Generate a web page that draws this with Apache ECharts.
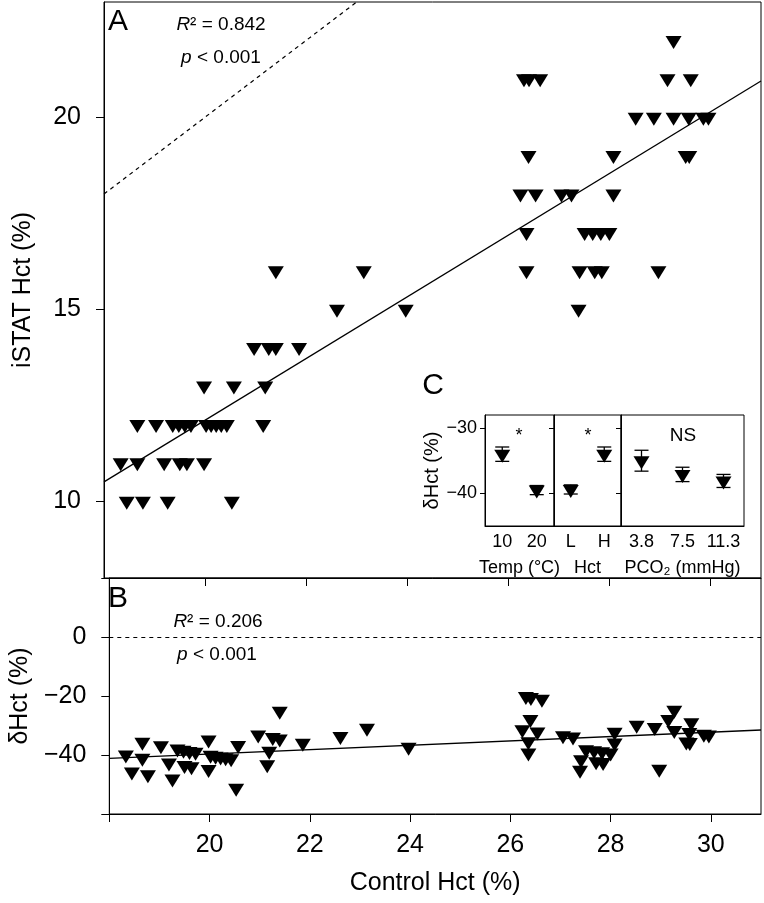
<!DOCTYPE html>
<html>
<head>
<meta charset="utf-8">
<title>Hct</title>
<script src="https://cdn.jsdelivr.net/npm/echarts@6/dist/echarts.min.js"></script>
<style>
  html, body { margin: 0; padding: 0; background: #fff; }
  #chart { width: 764px; height: 903px; }
</style>
</head>
<body>
<div id="chart"></div>
<script>
const FONT = '"Liberation Sans", Arial, sans-serif'

// control Hct (x) and iSTAT Hct (panel A)
const controlHct = [
  18.45, 18.77, 19.26, 20.53,
  18.33, 18.66, 19.19, 19.50, 19.64, 19.98,
  18.66, 19.03, 19.36, 19.48, 19.60, 19.72, 20.02, 20.12, 20.22, 20.32, 20.43, 21.15,
  19.98, 20.57, 21.19,
  20.97, 21.26, 21.40, 21.86,
  22.61, 23.97,
  21.40, 23.14,
  26.31, 26.41, 26.63, 29.15, 29.61,
  29.27,
  28.52, 28.88, 29.27, 29.57, 29.86, 29.96,
  26.40, 28.08, 29.51, 29.58,
  26.24, 26.54, 27.05, 27.25, 28.08,
  26.36, 27.51, 27.67, 27.83, 28.00,
  26.36, 27.41, 27.71, 27.85, 28.97,
  27.39
]
const istatHct = [
  10, 10, 10, 10,
  11, 11, 11, 11, 11, 11,
  12, 12, 12, 12, 12, 12, 12, 12, 12, 12, 12, 12,
  13, 13, 13,
  14, 14, 14, 14,
  15, 15,
  16, 16,
  21, 21, 21, 21, 21,
  22,
  20, 20, 20, 20, 20, 20,
  19, 19, 19, 19,
  18, 18, 18, 18, 18,
  17, 17, 17, 17, 17,
  16, 16, 16, 16, 16,
  15
]
// delta Hct (panel B), same order
const deltaHct = [
  -45.8, -46.7, -48.1, -51.3,
  -40.0, -41.1, -42.7, -43.6, -44.0, -44.9,
  -35.7, -36.9, -38.0, -38.4, -38.8, -39.1, -40.1, -40.4, -40.7, -40.9, -41.3, -43.3,
  -34.9, -36.8, -38.7,
  -33.2, -34.1, -34.6, -36.0,
  -33.7, -37.4,
  -25.2, -30.9,
  -20.2, -20.5, -21.1, -28.0, -29.1,
  -24.8,
  -29.9, -30.7, -31.7, -32.4, -33.0, -33.2,
  -28.0, -32.3, -35.6, -35.8,
  -31.4, -32.2, -33.5, -33.9, -35.9,
  -35.5, -38.2, -38.6, -38.9, -39.3,
  -39.3, -41.6, -42.3, -42.5, -44.8,
  -45.2
]

// regression fits [intercept, slope]
const fitA = [-3.95, 0.803]
const fitB = [-54.4, 0.738]

const xRange = [18, 31]
const xTicks = [20, 22, 24, 26, 28, 30]
const yTicksA = [10, 15, 20]
const yTicksB = [-40, -20, 0]

// panel C
const tempCats = ['10', '20']
const tempMean = [-34.0, -39.5]
const tempSE = [1.1, 0.7]
const hctCats = ['L', 'H']
const hctMean = [-39.4, -34.0]
const hctSE = [0.7, 1.1]
const pco2Cats = ['3.8', '7.5', '11.3']
const pco2Mean = [-35.0, -37.1, -38.1]
const pco2SE = [1.6, 1.1, 1.0]

const tri = 'path://M0,0L16,0L8,13Z'
const minus = v => String(v).replace('-', '\u2212')
const lineFrom = (fit, x0, x1) => [[x0, fit[0] + fit[1] * x0], [x1, fit[0] + fit[1] * x1]]

const chart = echarts.init(document.getElementById('chart'))

const baseLine = { show: true, onZero: false, lineStyle: { color: '#000', width: 1 } }

function cAxisX(idx, cats, name) {
  return {
    gridIndex: idx, type: 'category', data: cats, boundaryGap: true,
    axisLine: baseLine, axisTick: { show: false },
    axisLabel: { interval: 0, hideOverlap: false, fontSize: 18, color: '#000', margin: 7, fontFamily: FONT },
    name: name, nameLocation: 'middle', nameGap: 33,
    nameTextStyle: { fontSize: 18, color: '#000', fontFamily: FONT }
  }
}
function cAxisY(idx, showLabel) {
  return {
    gridIndex: idx, type: 'value', min: -45, max: -28,
    axisLine: baseLine, splitLine: { show: false },
    axisTick: { show: true, length: 5, customValues: [-40, -30], lineStyle: { color: '#000' } },
    axisLabel: { show: showLabel, customValues: [-40, -30], fontSize: 18, color: '#000', margin: 8,
      fontFamily: FONT, formatter: minus },
    name: showLabel ? '\u03b4Hct (%)' : '', nameLocation: 'middle', nameGap: 42,
    nameTextStyle: { fontSize: 20, color: '#000', fontFamily: FONT }
  }
}
function cPoints(idx, mean) {
  return {
    type: 'scatter', xAxisIndex: idx, yAxisIndex: idx,
    symbol: tri, symbolSize: [16, 13], symbolOffset: [0, 2],
    itemStyle: { color: '#000', opacity: 1 }, z: 3,
    data: mean.map((m, i) => [i, m])
  }
}
function cBars(idx, mean, se) {
  return {
    type: 'custom', xAxisIndex: idx, yAxisIndex: idx,
    data: mean.map((m, i) => [i, m - se[i], m + se[i]]),
    renderItem(params, api) {
      const lo = api.coord([api.value(0), api.value(1)])
      const hi = api.coord([api.value(0), api.value(2)])
      const w = 7
      const style = { stroke: '#000', lineWidth: 1.3 }
      return {
        type: 'group',
        children: [
          { type: 'line', shape: { x1: hi[0], y1: hi[1], x2: lo[0], y2: lo[1] }, style },
          { type: 'line', shape: { x1: hi[0] - w, y1: hi[1], x2: hi[0] + w, y2: hi[1] }, style },
          { type: 'line', shape: { x1: lo[0] - w, y1: lo[1], x2: lo[0] + w, y2: lo[1] }, style }
        ]
      }
    }
  }
}

const gridBox = { show: true, borderColor: '#000', borderWidth: 1, backgroundColor: 'transparent' }

function txt(x, y, text, size, rich) {
  return {
    type: 'text', x: x, y: y, z: 10,
    style: { text: text, fontSize: size, fontFamily: FONT, fill: '#000', align: 'center',
      verticalAlign: 'middle', rich: rich || {} }
  }
}
const ital = { i: { fontStyle: 'italic', fontSize: 19, fontFamily: FONT } }

const option = {
  animation: false,
  backgroundColor: '#fff',
  textStyle: { fontFamily: FONT },
  grid: [
    Object.assign({ left: 104, top: 2, width: 657, height: 576 }, gridBox),
    Object.assign({ left: 104, top: 578, width: 657, height: 236 }, gridBox),
    Object.assign({ left: 485, top: 415, width: 69, height: 111 }, gridBox),
    Object.assign({ left: 554, top: 415, width: 67, height: 111 }, gridBox),
    Object.assign({ left: 621, top: 415, width: 123, height: 111 }, gridBox)
  ],
  xAxis: [
    {
      gridIndex: 0, type: 'value', min: xRange[0], max: xRange[1],
      axisLine: baseLine, splitLine: { show: false },
      axisTick: { length: 8, customValues: xTicks, lineStyle: { color: '#000' } },
      axisLabel: { show: false }
    },
    {
      gridIndex: 1, type: 'value', min: xRange[0], max: xRange[1],
      axisLine: baseLine, splitLine: { show: false },
      axisTick: { length: 8, customValues: [18].concat(xTicks), lineStyle: { color: '#000' } },
      axisLabel: { customValues: xTicks, fontSize: 25, color: '#000', margin: 19, fontFamily: FONT },
      name: 'Control Hct (%)', nameLocation: 'middle', nameGap: 57,
      nameTextStyle: { fontSize: 25, color: '#000', fontFamily: FONT }
    },
    cAxisX(2, tempCats, 'Temp (\u00b0C)'),
    cAxisX(3, hctCats, 'Hct'),
    cAxisX(4, pco2Cats, 'PCO\u2082 (mmHg)')
  ],
  yAxis: [
    {
      gridIndex: 0, type: 'value', min: 8, max: 23,
      axisLine: baseLine, splitLine: { show: false },
      axisTick: { length: 8, customValues: yTicksA, lineStyle: { color: '#000' } },
      axisLabel: { customValues: yTicksA, fontSize: 25, color: '#000', margin: 23, fontFamily: FONT },
      name: 'iSTAT Hct (%)', nameLocation: 'middle', nameGap: 68,
      nameTextStyle: { fontSize: 25, color: '#000', fontFamily: FONT }
    },
    {
      gridIndex: 1, type: 'value', min: -60, max: 20,
      axisLine: baseLine, splitLine: { show: false },
      axisTick: { length: 8, customValues: [-60, -40, -20, 0, 20], lineStyle: { color: '#000' } },
      axisLabel: { customValues: yTicksB, fontSize: 25, color: '#000', margin: 23, fontFamily: FONT,
        formatter: minus },
      name: '\u03b4Hct (%)', nameLocation: 'middle', nameGap: 68,
      nameTextStyle: { fontSize: 25, color: '#000', fontFamily: FONT }
    },
    cAxisY(2, true),
    cAxisY(3, false),
    cAxisY(4, false)
  ],
  series: [
    {
      type: 'scatter', xAxisIndex: 0, yAxisIndex: 0,
      symbol: tri, symbolSize: [16, 13], symbolOffset: [0, 2],
      itemStyle: { color: '#000', opacity: 1 },
      data: controlHct.map((x, i) => [x, istatHct[i]])
    },
    {
      type: 'line', xAxisIndex: 0, yAxisIndex: 0, symbol: 'none', clip: true,
      lineStyle: { color: '#000', width: 1.2, type: [4, 4] },
      data: [[xRange[0], xRange[0]], [xRange[1], xRange[1]]]
    },
    {
      type: 'line', xAxisIndex: 0, yAxisIndex: 0, symbol: 'none', clip: true,
      lineStyle: { color: '#000', width: 1.3 },
      data: lineFrom(fitA, xRange[0], xRange[1])
    },
    {
      type: 'scatter', xAxisIndex: 1, yAxisIndex: 1,
      symbol: tri, symbolSize: [16, 13], symbolOffset: [0, 2],
      itemStyle: { color: '#000', opacity: 1 },
      data: controlHct.map((x, i) => [x, deltaHct[i]])
    },
    {
      type: 'line', xAxisIndex: 1, yAxisIndex: 1, symbol: 'none', clip: true,
      lineStyle: { color: '#000', width: 1.3 },
      data: lineFrom(fitB, xRange[0], xRange[1]),
      markLine: {
        silent: true, symbol: 'none', label: { show: false },
        lineStyle: { color: '#000', width: 1.2, type: [4, 4] },
        data: [{ yAxis: 0 }]
      }
    },
    cBars(2, tempMean, tempSE), cPoints(2, tempMean),
    cBars(3, hctMean, hctSE), cPoints(3, hctMean),
    cBars(4, pco2Mean, pco2SE), cPoints(4, pco2Mean)
  ],
  graphic: [
    txt(118, 22, 'A', 30),
    txt(118, 599, 'B', 30),
    txt(433, 386, 'C', 30),
    txt(221, 25, '{i|R}\u00b2 = 0.842', 19, ital),
    txt(221, 58, '{i|p} < 0.001', 19, ital),
    txt(218, 622, '{i|R}\u00b2 = 0.206', 19, ital),
    txt(217, 655, '{i|p} < 0.001', 19, ital),
    txt(519, 436, '*', 18),
    txt(588, 436, '*', 18),
    txt(683, 436, 'NS', 19)
  ]
}

chart.setOption(option)
</script>
</body>
</html>
